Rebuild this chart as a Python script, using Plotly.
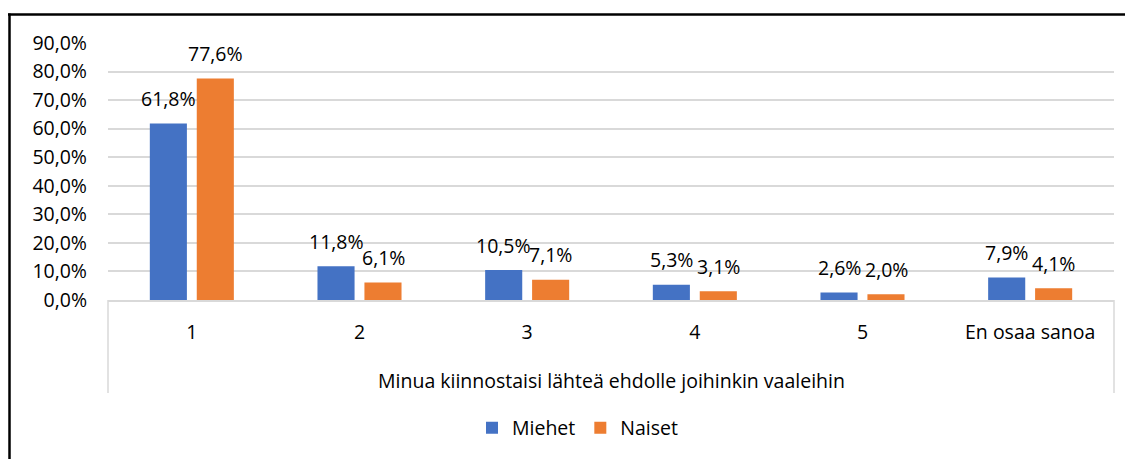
import plotly.graph_objects as go

categories = ["1", "2", "3", "4", "5", "En osaa sanoa"]
miehet = [61.8, 11.8, 10.5, 5.3, 2.6, 7.9]
naiset = [77.6, 6.1, 7.1, 3.1, 2.0, 4.1]
series_names = ["Miehet", "Naiset"]
axis_title = "Minua kiinnostaisi lähteä ehdolle joihinkin vaaleihin"
colors = ["#4472C4", "#ED7D31"]

FONT = "Open Sans"
FS = 19.5
OFF = 8  # page body margin
W, H = 1133 - OFF, 459 - OFF
# target pixel positions in the window
PL, PR, PT, PB = 108, 1114, 43, 300
L, R, T, B = PL - OFF, 1133 - PR, PT - OFF, 459 - PB
pw, ph = PR - PL, PB - PT

def fmt(v):
    return f"{v:.1f}".replace(".", ",") + "%"

fig = go.Figure()
for name, vals, col in zip(series_names, [miehet, naiset], colors):
    fig.add_trace(go.Bar(x=categories, y=vals, name=name, marker_color=col,
                         marker_line_width=0))

ann = []
for vals, sh in [(miehet, -23.5), (naiset, 23.5)]:
    for i, v in enumerate(vals):
        ann.append(dict(x=i, y=v, xref="x", yref="y", text=fmt(v), showarrow=False,
                        xshift=sh, yshift=25, yanchor="middle", xanchor="center",
                        font=dict(family=FONT, size=FS, color="#000")))
ann.append(dict(x=0.5, y=0, xref="paper", yref="paper", text=axis_title, showarrow=False,
                yshift=-80, yanchor="middle", font=dict(family=FONT, size=FS, color="#000")))

def px2x(p):
    return (p - PL) / pw

def py2y(p):
    return (PB - p) / ph

shapes = [
    dict(type="line", xref="paper", yref="paper", x0=0, x1=0, y0=0, y1=py2y(393),
         line=dict(color="#d9d9d9", width=1.5)),
    dict(type="line", xref="paper", yref="paper", x0=1, x1=1, y0=0, y1=py2y(393),
         line=dict(color="#d9d9d9", width=1.5)),
    dict(type="line", xref="paper", yref="paper", x0=px2x(8), x1=px2x(1140), y0=py2y(14.5), y1=py2y(14.5),
         line=dict(color="#000", width=2.5)),
    dict(type="line", xref="paper", yref="paper", x0=px2x(9.5), x1=px2x(9.5), y0=py2y(13.5), y1=py2y(470),
         line=dict(color="#000", width=2.5)),
]

fig.update_layout(
    width=W, height=H,
    margin=dict(l=L, r=R, t=T, b=B, autoexpand=False),
    paper_bgcolor="white", plot_bgcolor="white",
    barmode="group", bargap=0.44, bargroupgap=0.21,
    separators=", ",
    font=dict(family=FONT, size=FS, color="#000"),
    annotations=ann, shapes=shapes,
    legend=dict(orientation="h", x=px2x(578), xanchor="center", y=py2y(428), yanchor="middle",
                font=dict(family=FONT, size=FS, color="#000"), itemwidth=30, traceorder="normal"),
    showlegend=True,
)
fig.update_yaxes(range=[0, 90], dtick=10, tick0=0, tickformat=".1f", ticksuffix="%",
                 showgrid=True, gridcolor="#d9d9d9", gridwidth=1.5, zeroline=False,
                 showline=False, ticks="", ticklabelstandoff=20,
                 tickfont=dict(family=FONT, size=FS, color="#000"))
fig.update_xaxes(showline=True, linecolor="#d9d9d9", linewidth=1.5, ticks="",
                 ticklabelstandoff=14, tickfont=dict(family=FONT, size=FS, color="#000"))

fig.write_html("out.html")
